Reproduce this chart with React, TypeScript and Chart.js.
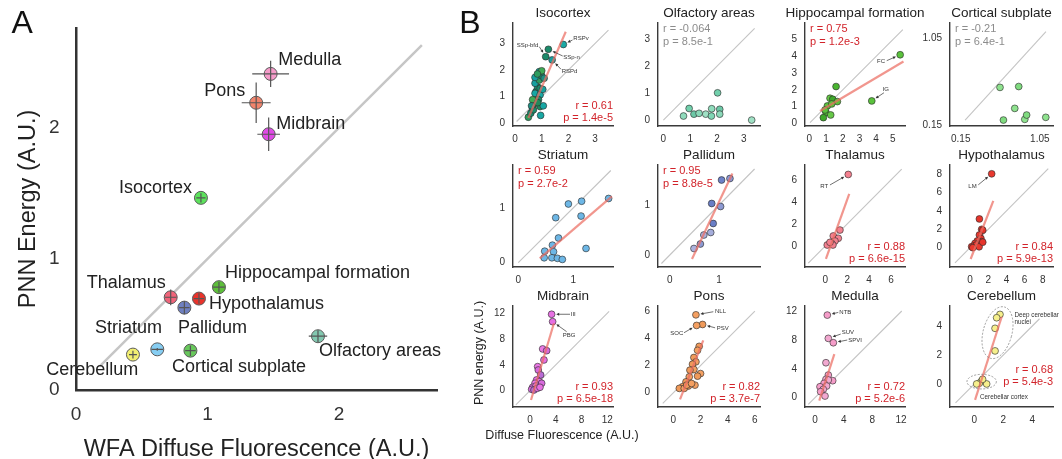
import React, { useEffect, useRef } from 'react';
import { Chart, registerables } from 'chart.js';

Chart.register(...registerables);

const FONT = '"Liberation Sans", Arial, Helvetica, sans-serif';
Chart.defaults.font.family = FONT;
const INK = '#222222';
const RED = '#d2232a';
const GREY_TXT = '#8c8c8c';

// ================= Panel A data =================
const regionNames = ['Medulla', 'Pons', 'Midbrain', 'Isocortex', 'Hippocampal formation', 'Thalamus', 'Hypothalamus', 'Pallidum', 'Striatum', 'Cortical subplate', 'Olfactory areas', 'Cerebellum'];
const wfaMean = [1.48, 1.37, 1.465, 0.95, 1.087, 0.72, 0.935, 0.824, 0.618, 0.87, 1.84, 0.433];
const pnnMean = [2.41, 2.19, 1.95, 1.465, 0.784, 0.707, 0.697, 0.628, 0.31, 0.3, 0.41, 0.27];
const wfaErr = [0.14, 0.11, 0.086, 0.035, 0.045, 0.045, 0.04, 0.04, 0.045, 0.04, 0.07, 0.03];
const pnnErr = [0.1, 0.155, 0.127, 0.035, 0.04, 0.06, 0.04, 0.05, 0.01, 0.04, 0.045, 0.03];
const regionColors = ['#f59bc9', '#f2846c', '#e04ae6', '#5ce25c', '#5dbf3a', '#f0647a', '#e8332b', '#6f80c0', '#86cdf2', '#68c85c', '#82c8b0', '#f2ef72'];
const ticksA = [0, 1, 2];
const identityA = [0.18, 2.63];
// label placement (style): [dx px, dy px, align]
const labelPlaceA: any[] = [
  [7.5, -14, 'left'],
  [-11, -12, 'right'],
  [7.5, -10.5, 'left'],
  [-9, -10, 'right'],
  [6, -14, 'left'],
  [-5, -14.5, 'right'],
  [10, 5, 'left'],
  [-6.4, 20, 'left'],
  [4.7, -21, 'right'],
  [-18.4, 16, 'left'],
  [1, 15, 'left'],
  [5.3, 15.5, 'right'],
];

// ================= Panel B data =================
// Isocortex
const isoX = [1.81, 1.15, 1.25, 1.39, 0.5, 0.59, 0.66, 0.75, 0.81, 0.94, 1.06, 0.96, 0.79, 0.85, 0.75, 0.91, 1.0, 0.91, 1.0, 1.09, 0.81, 0.75, 0.94, 0.88, 0.69, 0.75, 0.84, 0.94, 1.04, 0.66, 0.62, 0.85];
const isoY = [2.96, 2.5, 2.78, 2.38, 0.22, 0.37, 0.56, 0.75, 0.88, 0.62, 0.65, 0.29, 1.19, 1.35, 1.5, 1.62, 1.78, 1.94, 1.97, 1.69, 1.0, 1.12, 1.06, 0.88, 0.5, 1.72, 1.85, 1.31, 1.27, 0.88, 0.65, 0.77];
const isoFitX = [0.5, 1.9];
const isoFitY = [0.19, 3.44];
const isoDiag = [0.06, 3.5];
const isoStats = ['r = 0.61', 'p = 1.4e-5'];
const isoTicks = [0, 1, 2, 3];
// Olfactory areas
const olfX = [0.75, 0.96, 1.14, 1.33, 1.58, 1.79, 1.8, 2.02, 2.1, 2.1, 3.29];
const olfY = [0.15, 0.43, 0.22, 0.25, 0.22, 0.15, 0.42, 1.01, 0.4, 0.22, 0.0];
const olfDiag = [0, 3.4];
const olfStats = ['r = -0.064', 'p = 8.5e-1'];
const olfTicks = [0, 1, 2, 3];
// Hippocampal formation
const hipX = [5.44, 3.74, 1.6, 1.24, 1.4, 1.68, 1.08, 1.0, 1.28, 0.84, 1.34, 0.94];
const hipY = [4.1, 1.34, 2.2, 1.5, 1.44, 1.3, 1.04, 0.64, 0.5, 0.34, 1.16, 0.8];
const hipFitX = [0.64, 5.64];
const hipFitY = [0.74, 3.7];
const hipDiag = [0.04, 5.6];
const hipStats = ['r = 0.75', 'p = 1.2e-3'];
const hipTicks = [0, 1, 2, 3, 4, 5];
// Cortical subplate
const csX = [0.597, 0.81, 0.765, 0.636, 0.879, 0.9, 1.118];
const csY = [0.541, 0.55, 0.323, 0.202, 0.209, 0.254, 0.23];
const csDiag = [0.2, 1.12];
const csStats = ['r = -0.21', 'p = 6.4e-1'];
const csTicks = [0.15, 1.05];
// Striatum
const strX = [1.64, 1.15, 0.91, 0.68, 1.14, 0.73, 1.23, 0.62, 0.48, 0.64, 0.47, 0.61, 0.71, 0.8];
const strY = [1.17, 1.12, 1.07, 0.82, 0.85, 0.45, 0.26, 0.32, 0.21, 0.2, 0.09, 0.09, 0.08, 0.06];
const strFitX = [0.39, 1.7];
const strFitY = [0.08, 1.21];
const strDiag = [0, 1.68];
const strStats = ['r = 0.59', 'p = 2.7e-2'];
const strTicks = [0, 1];
// Pallidum
const palX = [1.05, 1.22, 0.85, 1.03, 0.88, 0.83, 0.69, 0.62, 0.49];
const palY = [1.5, 1.53, 1.03, 0.97, 0.63, 0.45, 0.4, 0.22, 0.13];
const palFitX = [0.45, 1.27];
const palFitY = [-0.08, 1.63];
const palDiag = [-0.17, 1.72];
const palStats = ['r = 0.95', 'p = 8.8e-5'];
const palTicks = [0, 1];
// Thalamus
const thaX = [2.1, 1.34, 0.73, 1.19, 0.89, 0.58, 0.18, 0.7, 0.43];
const thaY = [6.5, 1.45, 0.91, 0.7, 0.45, 0.24, 0.09, 0.09, 0.33];
const thaFitX = [0.06, 2.19];
const thaFitY = [-1.18, 4.73];
const thaDiag = [-1.55, 6.98];
const thaStats = ['r = 0.88', 'p = 6.6e-15'];
const thaTicks = [0, 2, 4, 6];
// Hypothalamus
const hypX = [2.38, 1.03, 1.28, 1.4, 1.03, 1.2, 0.8, 1.26, 0.55, 0.18, 0.44, 0.7, 1.0, 1.4, 0.3];
const hypY = [8.04, 3.13, 2.0, 1.9, 1.38, 1.0, 0.73, 0.66, 0.47, 0.11, 0.2, 0.3, 0.1, 0.6, 0.0];
const hypFitX = [0.07, 2.56];
const hypFitY = [-1.23, 5.1];
const hypDiag = [-1.65, 8.6];
const hypStats = ['r = 0.84', 'p = 5.9e-13'];
const hypTicks = [0, 2, 4, 6, 8];
// Midbrain
const midX = [3.36, 3.52, 1.97, 2.59, 2.17, 1.19, 1.29, 1.66, 1.03, 1.45, 0.78, 1.81, 0.41, 0.93, 0.26, 0.62, 1.14, 1.55];
const midY = [11.85, 10.7, 6.47, 6.2, 4.76, 3.72, 3.2, 2.43, 1.66, 1.4, 1.14, 1.14, 0.52, 0.72, 0.2, 0.1, 0.36, 0.52];
const midFitX = [0.16, 3.72];
const midFitY = [-1.45, 10.45];
const midDiag = [-2.2, 12.3];
const midStats = ['r = 0.93', 'p = 6.5e-18'];
const midTicks = [0, 4, 8, 12];
// Pons
const ponX = [1.66, 2.15, 1.71, 1.9, 1.78, 1.51, 1.66, 1.41, 1.51, 1.22, 2.0, 1.78, 1.17, 0.93, 1.59, 1.1, 0.68, 0.44, 0.8, 0.98, 1.34];
const ponY = [5.73, 5.02, 4.95, 3.41, 3.12, 2.59, 2.27, 2.1, 1.71, 1.66, 1.41, 1.22, 1.17, 0.8, 0.56, 0.49, 0.44, 0.32, 0.32, 0.56, 0.68];
const ponFitX = [0.49, 2.2];
const ponFitY = [-0.49, 3.85];
const ponDiag = [-0.78, 6.0];
const ponStats = ['r = 0.82', 'p = 3.7e-7'];
const ponTicks = [0, 2, 4, 6];
// Medulla
const medX = [1.72, 1.86, 2.56, 1.53, 1.86, 1.53, 2.47, 1.86, 1.26, 1.63, 0.7, 1.16, 0.79, 1.4];
const medY = [11.53, 8.28, 7.67, 4.88, 3.16, 2.56, 2.37, 2.47, 2.0, 1.63, 1.53, 1.16, 0.84, 0.23];
const medFitX = [0.6, 2.7];
const medFitY = [-0.42, 6.09];
const medDiag = [-0.93, 12.1];
const medStats = ['r = 0.72', 'p = 5.2e-6'];
const medTicks = [0, 4, 8, 12];
// Cerebellum
const cbX = [1.77, 1.54, 1.43, 1.43, 0.51, 0.34, 0.16, 0.85, 0.57];
const cbY = [4.8, 4.57, 3.84, 2.28, 0.21, 0.05, 0.0, 0.0, 0.32];
const cbFitX = [0.05, 1.89];
const cbFitY = [-1.1, 4.64];
const cbDiag = [-1.3, 4.5];
const cbStats = ['r = 0.68', 'p = 5.4e-3'];
const cbTicks = [0, 2, 4];

// ================= layout (styles) =================
const COLS = [[513, 613], [658, 760], [805, 905], [950, 1053]];
const ROWS = [[23, 126], [165, 267], [306, 407]];

// annotations: point index, label, text offset, align, arrow tail offset
const isoNotes = [
  { idx: 0, text: 'RSPv', dx: 10, dy: -6.5, align: 'left', ax: 9.2, ay: -4.5 },
  { idx: 1, text: 'SSp-bfd', dx: -7.4, dy: -11.75, align: 'right', ax: -6.4, ay: -10 },
  { idx: 2, text: 'SSp-n', dx: 14.9, dy: 8, align: 'left', ax: 14.3, ay: 6.7 },
  { idx: 3, text: 'RSPd', dx: 9.6, dy: 11.1, align: 'left', ax: 8.9, ay: 9.4 },
];
const hipNotes = [
  { idx: 0, text: 'FC', dx: -15.1, dy: 6.9, align: 'right', ax: -13.4, ay: 5.9 },
  { idx: 1, text: 'IG', dx: 10.9, dy: -11.6, align: 'left', ax: 12.2, ay: -8.2 },
];
const thaNotes = [{ idx: 0, text: 'RT', dx: -20, dy: 12.2, align: 'right', ax: -18.3, ay: 10.5 }];
const hypNotes = [{ idx: 0, text: 'LM', dx: -15, dy: 12.7, align: 'right', ax: -13.4, ay: 11 }];
const midNotes = [
  { idx: 0, text: 'III', dx: 19.1, dy: 0, align: 'left', ax: 18.4, ay: 0 },
  { idx: 1, text: 'PBG', dx: 10, dy: 13.3, align: 'left', ax: 14, ay: 10 },
];
const ponNotes = [
  { idx: 0, text: 'NLL', dx: 19.1, dy: -3.8, align: 'left', ax: 17.4, ay: -3.1 },
  { idx: 1, text: 'PSV', dx: 14.2, dy: 3.9, align: 'left', ax: 12.5, ay: 3.3 },
  { idx: 2, text: 'SOC', dx: -13.3, dy: 7.9, align: 'right', ax: -12.6, ay: 7.3 },
];
const medNotes = [
  { idx: 0, text: 'NTB', dx: 12, dy: -2.7, align: 'left', ax: 11, ay: -2.7 },
  { idx: 1, text: 'SUV', dx: 13.4, dy: -6, align: 'left', ax: 12.4, ay: -4.3 },
  { idx: 2, text: 'SPVI', dx: 14.9, dy: -2.7, align: 'left', ax: 13.9, ay: -2.7 },
];
const cbGroups = [
  { members: [0, 1, 2, 3], rx: 14.4, ry: 26.6, rot: 15, lines: ['Deep cerebellar', 'nuclei'], tdx: 17, tdy: -17 },
  { members: [4, 5, 6, 7, 8], rx: 14.7, ry: 7.3, rot: 0, lines: ['Cerebellar cortex'], tdx: -1.6, tdy: 15.6 },
];

const PANELS: any[] = [
  { title: 'Isocortex', col: 0, row: 0, xs: isoX, ys: isoY, colors: ['#19a8a4', '#1b8a6a', '#1b8a6a', '#17a0a0', '#2e9c5e', '#1b8a6a', '#15a19e', '#3faa55', '#1d8e80', '#228a5c', '#17a7a4'], fitX: isoFitX, fitY: isoFitY, diag: isoDiag, stats: isoStats, sig: true, statPos: 'br', xRange: [-0.075, 3.67], yRange: [-0.11, 3.77], xTicks: isoTicks, yTicks: isoTicks, notes: isoNotes },
  { title: 'Olfactory areas', col: 1, row: 0, xs: olfX, ys: olfY, colors: ['#8fdcbc', '#72d0ac', '#6cc8a6', '#8ad8b8', '#9fe0c4', '#7fd6b4'], diag: olfDiag, stats: olfStats, sig: false, statPos: 'tl', xRange: [-0.2, 3.6], yRange: [-0.22, 3.6], xTicks: olfTicks, yTicks: olfTicks, notes: [] },
  { title: 'Hippocampal formation', col: 2, row: 0, xs: hipX, ys: hipY, colors: ['#5ac23c', '#5ac23c', '#49b530', '#66c847', '#3fa82a'], fitX: hipFitX, fitY: hipFitY, diag: hipDiag, stats: hipStats, sig: true, statPos: 'tl', xRange: [-0.26, 5.73], yRange: [-0.16, 6.0], xTicks: hipTicks, yTicks: hipTicks, notes: hipNotes },
  { title: 'Cortical subplate', col: 3, row: 0, xs: csX, ys: csY, colors: ['#8ee28e', '#7fdb7f'], diag: csDiag, stats: csStats, sig: false, statPos: 'tl', xRange: [0.028, 1.2], yRange: [0.14, 1.21], xTicks: csTicks, yTicks: csTicks, notes: [] },
  { title: 'Striatum', col: 0, row: 1, xs: strX, ys: strY, colors: ['#6db7e6'], fitX: strFitX, fitY: strFitY, diag: strDiag, stats: strStats, sig: true, statPos: 'tl', xRange: [-0.096, 1.72], yRange: [-0.078, 1.78], xTicks: strTicks, yTicks: strTicks, notes: [] },
  { title: 'Pallidum', col: 1, row: 1, xs: palX, ys: palY, colors: ['#6d82c9', '#8a98d4', '#6a7ec6', '#8c99d2', '#6a7ec6', '#a5addb', '#a9b0dc', '#8c99d2', '#aab1dd'], fitX: palFitX, fitY: palFitY, diag: palDiag, stats: palStats, sig: true, statPos: 'tl', xRange: [-0.24, 1.83], yRange: [-0.24, 1.8], xTicks: palTicks, yTicks: palTicks, notes: [] },
  { title: 'Thalamus', col: 2, row: 1, xs: thaX, ys: thaY, colors: ['#f4808f'], fitX: thaFitX, fitY: thaFitY, diag: thaDiag, stats: thaStats, sig: true, statPos: 'br', xRange: [-1.85, 7.28], yRange: [-1.91, 7.36], xTicks: thaTicks, yTicks: thaTicks, notes: thaNotes },
  { title: 'Hypothalamus', col: 3, row: 1, xs: hypX, ys: hypY, colors: ['#e8392f', '#e6342b'], fitX: hypFitX, fitY: hypFitY, diag: hypDiag, stats: hypStats, sig: true, statPos: 'br', xRange: [-2.2, 9.12], yRange: [-2.1, 9.0], xTicks: hypTicks, yTicks: hypTicks, notes: hypNotes },
  { title: 'Midbrain', col: 0, row: 2, xs: midX, ys: midY, colors: ['#e670e2', '#e670e2', '#ea78e4', '#d76adc', '#e670e2', '#ea78e4', '#d76adc', '#b86ad4'], fitX: midFitX, fitY: midFitY, diag: midDiag, stats: midStats, sig: true, statPos: 'br', xRange: [-2.64, 12.9], yRange: [-2.54, 13.13], xTicks: midTicks, yTicks: midTicks, notes: midNotes, axisTitles: ['Diffuse Fluorescence (A.U.)', 'PNN energy (A.U.)'] },
  { title: 'Pons', col: 1, row: 2, xs: ponX, ys: ponY, colors: ['#f4a062', '#f09a5a'], fitX: ponFitX, fitY: ponFitY, diag: ponDiag, stats: ponStats, sig: true, statPos: 'br', xRange: [-1.13, 6.375], yRange: [-1.05, 6.38], xTicks: ponTicks, yTicks: ponTicks, notes: ponNotes },
  { title: 'Medulla', col: 2, row: 2, xs: medX, ys: medY, colors: ['#f59dc9', '#f2a8d0'], fitX: medFitX, fitY: medFitY, diag: medDiag, stats: medStats, sig: true, statPos: 'br', xRange: [-1.39, 12.55], yRange: [-1.3, 12.8], xTicks: medTicks, yTicks: medTicks, notes: medNotes },
  { title: 'Cerebellum', col: 3, row: 2, xs: cbX, ys: cbY, colors: ['#f6f08c'], fitX: cbFitX, fitY: cbFitY, diag: cbDiag, stats: cbStats, sig: true, statPos: 'br', statLift: 17, xRange: [-1.68, 5.43], yRange: [-1.59, 5.38], xTicks: cbTicks, yTicks: cbTicks, notes: [], groups: cbGroups },
];

const SMALL_R = 3.4;

function smallBox(p: any) {
  const [pl, pr] = COLS[p.col];
  const [pt, pb] = ROWS[p.row];
  const L = p.axisTitles ? 50 : 45;
  const B = p.axisTitles ? 40 : 22;
  const T = 25;
  const R = 30;
  return { x: pl - L, y: pt - T, w: L + (pr - pl) + R, h: T + (pb - pt) + B, L, B, T, R };
}

function drawArrow(ctx: CanvasRenderingContext2D, x0: number, y0: number, px: number, py: number, r: number) {
  const vx = px - x0, vy = py - y0;
  const len = Math.hypot(vx, vy) || 1;
  const ux = vx / len, uy = vy / len;
  const ex = px - ux * (r + 1.2), ey = py - uy * (r + 1.2);
  ctx.beginPath();
  ctx.moveTo(x0, y0);
  ctx.lineTo(ex - ux * 2, ey - uy * 2);
  ctx.stroke();
  const hl = 3, hw = 1.5;
  ctx.beginPath();
  ctx.moveTo(ex, ey);
  ctx.lineTo(ex - ux * hl - uy * hw, ey - uy * hl + ux * hw);
  ctx.lineTo(ex - ux * hl + uy * hw, ey - uy * hl - ux * hw);
  ctx.closePath();
  ctx.fill();
}

function makeDecor(p: any) {
  return {
    id: 'decor',
    afterDraw(chart: any) {
      const { ctx, chartArea: a, scales } = chart;
      const sx = scales.x, sy = scales.y;
      ctx.save();
      // title
      ctx.fillStyle = INK;
      ctx.textAlign = 'center';
      ctx.textBaseline = 'middle';
      ctx.font = `13.5px ${FONT}`;
      ctx.fillText(p.title, (a.left + a.right) / 2, a.top - 9.5);
      // stats
      ctx.font = `11px ${FONT}`;
      ctx.fillStyle = p.sig ? RED : GREY_TXT;
      if (p.statPos === 'tl') {
        ctx.textAlign = 'left';
        ctx.fillText(p.stats[0], a.left + 5, a.top + 5.5);
        ctx.fillText(p.stats[1], a.left + 5, a.top + 18.5);
      } else {
        const lift = p.statLift || 0;
        ctx.textAlign = 'right';
        ctx.fillText(p.stats[0], a.right, a.bottom - 20.5 - lift);
        ctx.fillText(p.stats[1], a.right, a.bottom - 8 - lift);
      }
      // annotations
      ctx.font = `6px ${FONT}`;
      ctx.fillStyle = '#333';
      ctx.strokeStyle = '#333';
      ctx.lineWidth = 0.7;
      for (const n of p.notes || []) {
        const px = sx.getPixelForValue(p.xs[n.idx]);
        const py = sy.getPixelForValue(p.ys[n.idx]);
        ctx.textAlign = n.align;
        ctx.fillText(n.text, px + n.dx, py + n.dy);
        drawArrow(ctx, px + n.ax, py + n.ay, px, py, SMALL_R);
      }
      // groups (ellipses)
      for (const g of p.groups || []) {
        const gx = g.members.map((i: number) => p.xs[i]);
        const gy = g.members.map((i: number) => p.ys[i]);
        const cx = sx.getPixelForValue((Math.min(...gx) + Math.max(...gx)) / 2);
        const cy = sy.getPixelForValue((Math.min(...gy) + Math.max(...gy)) / 2);
        ctx.save();
        ctx.setLineDash([2, 1.5]);
        ctx.strokeStyle = '#777';
        ctx.lineWidth = 0.7;
        ctx.beginPath();
        ctx.ellipse(cx, cy, g.rx, g.ry, (g.rot * Math.PI) / 180, 0, Math.PI * 2);
        ctx.stroke();
        ctx.restore();
        ctx.textAlign = 'left';
        ctx.font = `6.3px ${FONT}`;
        g.lines.forEach((t: string, k: number) => ctx.fillText(t, cx + g.tdx, cy + g.tdy + k * 6.6));
      }
      // axis titles (shared, on Midbrain panel)
      if (p.axisTitles) {
        ctx.fillStyle = INK;
        ctx.font = `12.5px ${FONT}`;
        ctx.textAlign = 'center';
        ctx.fillText(p.axisTitles[0], (a.left + a.right) / 2 - 1, a.bottom + 28.7);
        ctx.save();
        ctx.translate(a.left - 33, (a.top + a.bottom) / 2 - 3.5);
        ctx.rotate(-Math.PI / 2);
        ctx.fillText(p.axisTitles[1], 0, 0);
        ctx.restore();
      }
      ctx.restore();
    },
  };
}

function smallConfig(p: any): any {
  const box = smallBox(p);
  const datasets: any[] = [];
  if (p.fitX) {
    datasets.push({ data: p.fitX.map((x: number, i: number) => ({ x, y: p.fitY[i] })), showLine: true, borderColor: 'rgba(236,110,98,0.72)', borderWidth: 2.2, pointRadius: 0, order: 0, clip: false });
  }
  datasets.push({ data: p.xs.map((x: number, i: number) => ({ x, y: p.ys[i] })), backgroundColor: p.xs.map((_: number, i: number) => p.colors[i % p.colors.length]), borderColor: 'rgba(45,45,45,0.9)', borderWidth: 0.7, pointRadius: SMALL_R, order: 1, clip: false });
  datasets.push({ data: p.diag.map((v: number) => ({ x: v, y: v })), showLine: true, borderColor: '#c4c4c4', borderWidth: 1.1, pointRadius: 0, order: 2, clip: false });
  const axis = (range: number[], ticks: number[], isX: boolean) => ({
    type: 'linear',
    min: range[0],
    max: range[1],
    afterBuildTicks: (s: any) => { s.ticks = ticks.map((v) => ({ value: v })); },
    afterFit: (s: any) => { if (isX) s.height = box.B; else s.width = box.L; },
    ticks: { font: { size: 10, family: FONT }, color: '#333', padding: isX ? 7 : 8, autoSkip: false, maxRotation: 0, callback: (v: number) => String(v) },
    grid: { display: false, drawTicks: false },
    border: { display: true, color: '#3a3a3a', width: 1.4 },
  });
  return {
    type: 'scatter',
    data: { datasets },
    options: {
      responsive: false,
      animation: false,
      events: [],
      layout: { padding: { left: 0, top: box.T, right: box.R, bottom: 0 } },
      plugins: { legend: { display: false }, tooltip: { enabled: false }, title: { display: false } },
      scales: { x: axis(p.xRange, p.xTicks, true), y: axis(p.yRange, p.yTicks, false) },
    },
    plugins: [makeDecor(p)],
  };
}

const panelADecor = {
  id: 'panelADecor',
  afterDatasetsDraw(chart: any) {
    const { ctx, scales } = chart;
    const sx = scales.x, sy = scales.y;
    ctx.save();
    ctx.strokeStyle = '#555';
    ctx.lineWidth = 1.2;
    wfaMean.forEach((x, i) => {
      const y = pnnMean[i];
      ctx.beginPath();
      ctx.moveTo(sx.getPixelForValue(x - wfaErr[i]), sy.getPixelForValue(y));
      ctx.lineTo(sx.getPixelForValue(x + wfaErr[i]), sy.getPixelForValue(y));
      ctx.moveTo(sx.getPixelForValue(x), sy.getPixelForValue(y - pnnErr[i]));
      ctx.lineTo(sx.getPixelForValue(x), sy.getPixelForValue(y + pnnErr[i]));
      ctx.stroke();
    });
    ctx.restore();
  },
  afterDraw(chart: any) {
    const { ctx, scales } = chart;
    const sx = scales.x, sy = scales.y;
    ctx.save();
    ctx.fillStyle = INK;
    ctx.font = `18px ${FONT}`;
    ctx.textBaseline = 'middle';
    regionNames.forEach((name, i) => {
      const [dx, dy, align] = labelPlaceA[i];
      ctx.textAlign = align;
      ctx.fillText(name, sx.getPixelForValue(wfaMean[i]) + dx, sy.getPixelForValue(pnnMean[i]) + dy);
    });
    ctx.restore();
  },
};

function panelAConfig(): any {
  const axis = (isX: boolean) => ({
    type: 'linear',
    min: 0,
    max: isX ? 2.745 : 2.76,
    afterBuildTicks: (s: any) => { s.ticks = ticksA.map((v) => ({ value: v })); },
    afterFit: (s: any) => { if (isX) s.height = 80; else s.width = 76; },
    ticks: { font: { size: 19, family: FONT }, color: '#333', padding: isX ? 13.6 : 16.5, autoSkip: false, maxRotation: 0, callback: (v: number) => String(v) },
    grid: { display: false, drawTicks: false },
    border: { display: true, color: '#333', width: 2.5 },
    title: {
      display: true,
      text: isX ? 'WFA Diffuse Fluorescence (A.U.)' : 'PNN Energy (A.U.)',
      font: { size: 23.5, family: FONT },
      color: INK,
      padding: isX ? { top: 0, bottom: 6.4 } : { top: 14, bottom: 0 },
    },
  });
  return {
    type: 'scatter',
    data: {
      datasets: [
        { data: wfaMean.map((x, i) => ({ x, y: pnnMean[i] })), backgroundColor: regionColors, borderColor: '#5a5a5a', borderWidth: 1, pointRadius: 6.5, order: 0, clip: false },
        { data: identityA.map((v) => ({ x: v, y: v })), showLine: true, borderColor: '#c6c6c6', borderWidth: 2.5, pointRadius: 0, order: 1, clip: false },
      ],
    },
    options: {
      responsive: false,
      animation: false,
      events: [],
      layout: { padding: { left: 0, top: 28, right: 13, bottom: 0 } },
      plugins: { legend: { display: false }, tooltip: { enabled: false } },
      scales: { x: axis(true), y: axis(false) },
    },
    plugins: [panelADecor],
  };
}

function ChartBox({ box, make }: { box: any; make: () => any }) {
  const ref = useRef<HTMLCanvasElement | null>(null);
  useEffect(() => {
    const chart = new Chart(ref.current as HTMLCanvasElement, make());
    return () => chart.destroy();
  }, []);
  return (
    <canvas
      ref={ref}
      width={box.w}
      height={box.h}
      style={{ position: 'absolute', left: box.x, top: box.y, width: box.w, height: box.h }}
    />
  );
}

export default function App() {
  return (
    <div style={{ position: 'fixed', left: 0, top: 0, width: 1062, height: 459, overflow: 'hidden', background: '#fff', fontFamily: FONT }}>
      <ChartBox box={{ x: 0, y: 0, w: 450, h: 470 }} make={panelAConfig} />
      {PANELS.map((p) => (
        <ChartBox key={p.title} box={smallBox(p)} make={() => smallConfig(p)} />
      ))}
      <div style={{ position: 'absolute', left: 11.5, top: 5.8, fontSize: 32, lineHeight: '32px', color: '#111' }}>A</div>
      <div style={{ position: 'absolute', left: 459.3, top: 5.8, fontSize: 32, lineHeight: '32px', color: '#111' }}>B</div>
    </div>
  );
}
